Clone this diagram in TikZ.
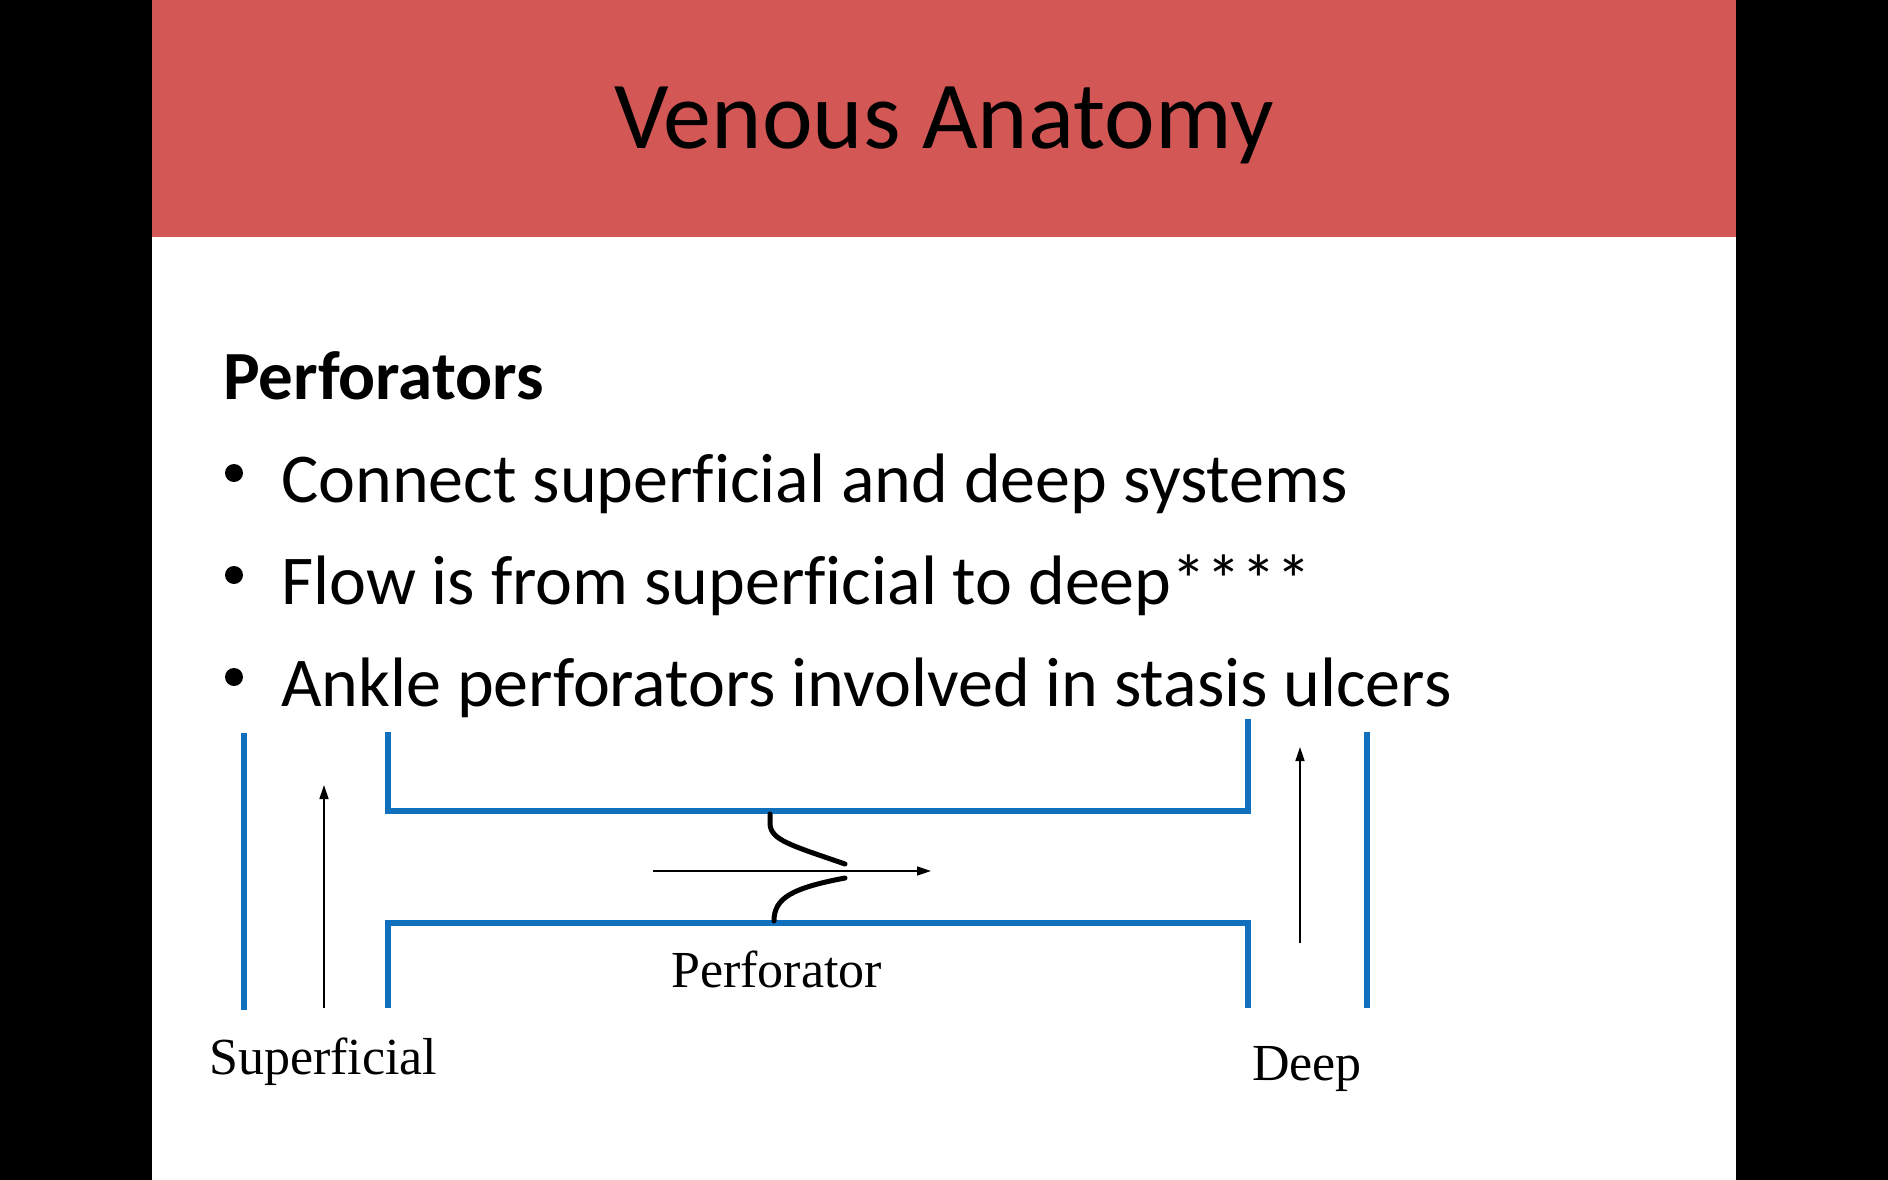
\documentclass[tikz,border=0pt]{standalone}
\usepackage{fontspec}
\setmainfont{Carlito}[Ligatures=CommonOff]
\newfontfamily\seriffont{Liberation Serif}[Ligatures=CommonOff]
\usetikzlibrary{arrows.meta}
\definecolor{banner}{RGB}{211,87,85}
\definecolor{vein}{RGB}{16,112,190}
\tikzset{
  veinline/.style={draw=vein, line width=5.5pt, line cap=butt, line join=miter},
  flowarrow/.style={draw=black, line width=1.4pt, -{Triangle[length=14pt,width=9pt]}},
  cusp/.style={draw=black, line width=5pt, line cap=round},
  bodytext/.style={anchor=base west, inner sep=0pt, font=\fontsize{70}{84}\selectfont},
  bulletmark/.style={circle, fill=black, inner sep=0pt, minimum size=18pt},
  figlabel/.style={anchor=base west, inner sep=0pt, font=\seriffont\fontsize{52}{60}\selectfont}
}
\begin{document}
\begin{tikzpicture}[x=1pt,y=-1pt]
\useasboundingbox (0,0) rectangle (1888,1180);
\fill[white] (0,0) rectangle (1888,1180);
\fill[black] (0,0) rectangle (152,1180);
\fill[black] (1736,0) rectangle (1888,1180);
\fill[banner] (152,0) rectangle (1736,237);
\node[anchor=base, inner sep=0pt, font=\fontsize{96}{110}\selectfont] (title) at (944,149) {Venous Anatomy};
\node[anchor=base west, inner sep=0pt, font=\bfseries\fontsize{69}{80}\selectfont] (head) at (223,399) {Perforators};
\node[bulletmark] (b1) at (234,473) {};
\node[bodytext] (t1) at (281,502) {Connect superficial and deep systems};
\node[bulletmark] (b2) at (234,575) {};
\node[bodytext] (t2) at (281,604) {Flow is from superficial to deep****};
\node[bulletmark] (b3) at (234,677) {};
\node[bodytext] (t3) at (281,706) {Ankle perforators involved in stasis ulcers};
% veins
\draw[veinline] (244,733) -- (244,1010);
\draw[veinline] (388,732) -- (388,811) -- (1248,811) -- (1248,719);
\draw[veinline] (388,1008) -- (388,923) -- (1248,923) -- (1248,1008);
\draw[veinline] (1367,732) -- (1367,1008);
% flow arrows
\coordinate (sfrom) at (324,1008);
\coordinate (sto) at (324,785);
\draw[flowarrow] (sfrom) -- (sto);
\coordinate (dfrom) at (1300,943);
\coordinate (dto) at (1300,747);
\draw[flowarrow] (dfrom) -- (dto);
\coordinate (pfrom) at (653,871);
\coordinate (pto) at (931,871);
\draw[flowarrow] (pfrom) -- (pto);
% valve cusps
\draw[cusp] (770,814) -- (770,824) .. controls (771,840) and (790,845) .. (845,864);
\draw[cusp] (774,921) .. controls (774,898) and (792,888) .. (845,878);
% labels
\node[figlabel] (lperf) at (671,987) {Perforator};
\node[figlabel] (lsup) at (209,1074) {Superficial};
\node[figlabel] (ldeep) at (1252,1080) {Deep};
\end{tikzpicture}
\end{document}
